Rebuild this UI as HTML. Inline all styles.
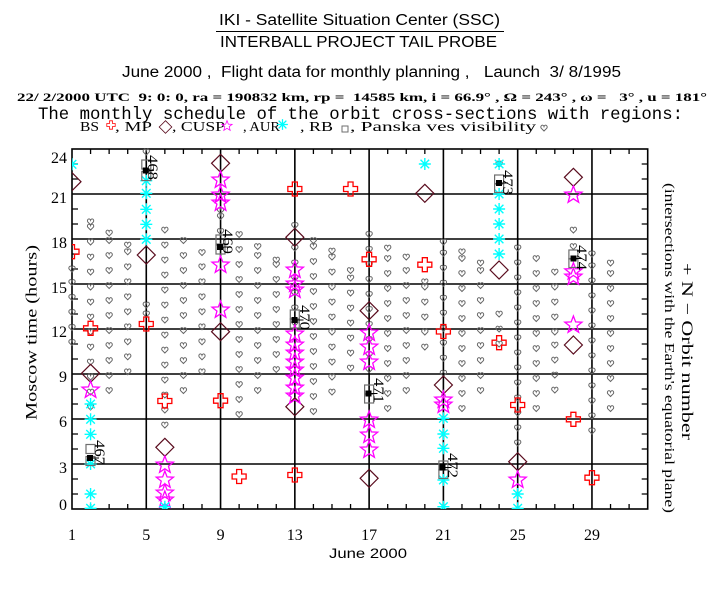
<!DOCTYPE html>
<html><head><meta charset="utf-8"><style>
html,body{margin:0;padding:0;background:#fff;}
svg{display:block;}
text{white-space:pre;}
</style></head><body>
<svg width="720" height="600" viewBox="0 0 720 600" xmlns="http://www.w3.org/2000/svg">
<defs>
<path id="cr" d="M-2.5,-7H2.5V-2.5H7V2.5H2.5V7H-2.5V2.5H-7V-2.5H-2.5Z" fill="none" stroke="#f00" stroke-width="1.3"/>
<path id="dm" d="M0,-9L9,0L0,9L-9,0Z" fill="none" stroke="#5a0c1e" stroke-width="1.2"/>
<path id="st" d="M0,-9L2.23,-3.07L8.56,-2.78L3.61,1.17L5.29,7.28L0,3.8L-5.29,7.28L-3.61,1.17L-8.56,-2.78L-2.23,-3.07Z" fill="none" stroke="#f0f" stroke-width="1.3"/>
<path id="as" d="M-6,0H6M0,-6V6M-4.3,-4.3L4.3,4.3M-4.3,4.3L4.3,-4.3" stroke="#0ff" stroke-width="1.4" fill="none"/>
<path id="h" d="M0,3L-2.8,0.2Q-3.4,-0.6 -3,-1.8Q-2.4,-3 -1.2,-2.8Q-0.3,-2.5 0,-1.5Q0.3,-2.5 1.2,-2.8Q2.4,-3 3,-1.8Q3.4,-0.6 2.8,0.2Z" fill="none" stroke="#666" stroke-width="1"/>
<clipPath id="pc"><rect x="72" y="149" width="576" height="360"/></clipPath>
</defs>
<rect width="720" height="600" fill="#fff"/>

<!-- Titles -->
<text x="219" y="25" font-family="Liberation Sans, sans-serif" font-size="15.5" textLength="281" lengthAdjust="spacingAndGlyphs">IKI - Satellite Situation Center (SSC)</text>
<line x1="216" y1="31.5" x2="504" y2="31.5" stroke="#000" stroke-width="1"/>
<text x="220" y="47" font-family="Liberation Sans, sans-serif" font-size="16" textLength="277" lengthAdjust="spacingAndGlyphs">INTERBALL PROJECT TAIL PROBE</text>
<text x="122" y="77" font-family="Liberation Sans, sans-serif" font-size="15.5" textLength="499" lengthAdjust="spacingAndGlyphs">June 2000 ,  Flight data for monthly planning ,   Launch  3/ 8/1995</text>
<text x="17" y="101" font-family="Liberation Serif, serif" font-weight="bold" font-size="12" textLength="690" lengthAdjust="spacingAndGlyphs">22/ 2/2000 UTC  9: 0: 0, ra = 190832 km, rp =  14585 km, i = 66.9° , Ω = 243° , ω =   3° , u = 181°</text>
<text x="38" y="119" font-family="Liberation Mono, monospace" font-size="17.5" textLength="645" lengthAdjust="spacingAndGlyphs">The monthly schedule of the orbit cross-sections with regions:</text>

<!-- Legend -->
<g font-family="Liberation Serif, serif" font-size="13.5">
<text x="80" y="131" textLength="19" lengthAdjust="spacingAndGlyphs">BS</text>
<text x="115" y="131" textLength="37" lengthAdjust="spacingAndGlyphs">, MP</text>
<text x="172" y="131" textLength="53" lengthAdjust="spacingAndGlyphs">, CUSP</text>
<text x="243" y="131" textLength="37" lengthAdjust="spacingAndGlyphs">, AUR</text>
<text x="300" y="131" textLength="33" lengthAdjust="spacingAndGlyphs">, RB</text>
<text x="350" y="131" textLength="186" lengthAdjust="spacingAndGlyphs">, Panska ves visibility</text>
</g>
<use href="#cr" transform="translate(111,125) scale(0.6)"/>
<use href="#dm" transform="translate(165.5,127) scale(0.7)"/>
<use href="#st" transform="translate(227,126) scale(0.6)"/>
<use href="#as" transform="translate(282.5,124.5) scale(0.9)"/>
<rect x="342" y="126" width="6" height="6" fill="none" stroke="#6e6e6e" stroke-width="1"/>
<use href="#h" x="544" y="128"/>

<!-- Grid -->
<g stroke="#000" stroke-width="1.6" fill="none">
<path d="M72,194H647.7M72,239H647.7M72,284H647.7M72,329H647.7M72,374H647.7M72,419H647.7M72,464H647.7"/>
<path d="M146.28,149V509M220.56,149V509M294.84,149V509M369.12,149V509M443.4,149V509M517.68,149V509M591.96,149V509"/>
<rect x="72" y="149" width="575.7" height="360"/>
</g>
<g stroke="#000" stroke-width="1.3" fill="none">
<path d="M90.57,149v5M109.14,149v5M127.71,149v5M164.85,149v5M183.42,149v5M201.99,149v5M239.13,149v5M257.7,149v5M276.27,149v5M313.41,149v5M331.98,149v5M350.55,149v5M387.69,149v5M406.26,149v5M424.83,149v5M461.97,149v5M480.54,149v5M499.11,149v5M536.25,149v5M554.82,149v5M573.39,149v5M610.53,149v5M629.1,149v5"/>
<path d="M90.57,509v-5M109.14,509v-5M127.71,509v-5M164.85,509v-5M183.42,509v-5M201.99,509v-5M239.13,509v-5M257.7,509v-5M276.27,509v-5M313.41,509v-5M331.98,509v-5M350.55,509v-5M387.69,509v-5M406.26,509v-5M424.83,509v-5M461.97,509v-5M480.54,509v-5M499.11,509v-5M536.25,509v-5M554.82,509v-5M573.39,509v-5M610.53,509v-5M629.1,509v-5"/>
<path d="M72,494h6M72,479h6M72,449h6M72,434h6M72,404h6M72,389h6M72,359h6M72,344h6M72,314h6M72,299h6M72,269h6M72,254h6M72,224h6M72,209h6M72,179h6M72,164h6"/>
<path d="M647.7,494h-6M647.7,479h-6M647.7,449h-6M647.7,434h-6M647.7,404h-6M647.7,389h-6M647.7,359h-6M647.7,344h-6M647.7,314h-6M647.7,299h-6M647.7,269h-6M647.7,254h-6M647.7,224h-6M647.7,209h-6M647.7,179h-6M647.7,164h-6"/>
</g>

<!-- Tick labels -->
<g font-family="Liberation Serif, serif" font-size="16" text-anchor="end">
<text x="67" y="163">24</text>
<text x="67" y="203">21</text>
<text x="67" y="248">18</text>
<text x="67" y="293">15</text>
<text x="67" y="337">12</text>
<text x="67" y="382">9</text>
<text x="67" y="427">6</text>
<text x="67" y="473">3</text>
<text x="67" y="510">0</text>
</g>
<g font-family="Liberation Serif, serif" font-size="16" text-anchor="middle">
<text x="72" y="540">1</text>
<text x="146.3" y="540">5</text>
<text x="220.6" y="540">9</text>
<text x="294.8" y="540">13</text>
<text x="369.1" y="540">17</text>
<text x="443.4" y="540">21</text>
<text x="517.7" y="540">25</text>
<text x="592" y="540">29</text>
</g>
<text x="329" y="558" font-family="Liberation Sans, sans-serif" font-size="14" textLength="78" lengthAdjust="spacingAndGlyphs">June 2000</text>
<text transform="translate(36.5,420) rotate(-90)" font-family="Liberation Serif, serif" font-size="16" textLength="175" lengthAdjust="spacingAndGlyphs">Moscow time (hours)</text>
<text transform="translate(682,263) rotate(90)" font-family="Liberation Serif, serif" font-size="16" textLength="177" lengthAdjust="spacingAndGlyphs">+ N − Orbit number</text>
<text transform="translate(665,183) rotate(90)" font-family="Liberation Serif, serif" font-size="14" textLength="330" lengthAdjust="spacingAndGlyphs">(intersections with the Earth's equatorial plane)</text>

<!-- Hearts (Panska ves visibility) -->
<g>
<g transform="translate(72,0)"><use href="#h" y="269"/><use href="#h" y="282.5"/><use href="#h" y="297.5"/><use href="#h" y="312.5"/><use href="#h" y="327.5"/><use href="#h" y="342.5"/></g>
<g transform="translate(90.57,0)"><use href="#h" y="221.75"/><use href="#h" y="227"/><use href="#h" y="242"/><use href="#h" y="257"/><use href="#h" y="272"/><use href="#h" y="287"/><use href="#h" y="302"/><use href="#h" y="317"/><use href="#h" y="332"/><use href="#h" y="347"/><use href="#h" y="362"/><use href="#h" y="377"/><use href="#h" y="392"/><use href="#h" y="407"/></g>
<g transform="translate(109.14,0)"><use href="#h" y="233"/><use href="#h" y="240.5"/><use href="#h" y="255.5"/><use href="#h" y="270.5"/><use href="#h" y="285.5"/><use href="#h" y="300.5"/><use href="#h" y="315.5"/><use href="#h" y="330.5"/><use href="#h" y="345.5"/><use href="#h" y="360.5"/><use href="#h" y="375.5"/><use href="#h" y="390.5"/></g>
<g transform="translate(127.71,0)"><use href="#h" y="245"/><use href="#h" y="251.75"/><use href="#h" y="266.75"/><use href="#h" y="281.75"/><use href="#h" y="296.75"/><use href="#h" y="311.75"/><use href="#h" y="326.75"/><use href="#h" y="341.75"/><use href="#h" y="356.75"/><use href="#h" y="371.75"/></g>
<g transform="translate(146.28,0)"><use href="#h" y="152"/><use href="#h" y="305"/><use href="#h" y="314"/></g>
<g transform="translate(164.85,0)"><use href="#h" y="230"/><use href="#h" y="245"/><use href="#h" y="260"/><use href="#h" y="275"/><use href="#h" y="290"/><use href="#h" y="305"/><use href="#h" y="320"/><use href="#h" y="335"/><use href="#h" y="350"/><use href="#h" y="365"/><use href="#h" y="380"/><use href="#h" y="395"/><use href="#h" y="410"/><use href="#h" y="425"/></g>
<g transform="translate(183.42,0)"><use href="#h" y="240.5"/><use href="#h" y="255.5"/><use href="#h" y="270.5"/><use href="#h" y="285.5"/><use href="#h" y="300.5"/><use href="#h" y="315.5"/><use href="#h" y="330.5"/><use href="#h" y="345.5"/><use href="#h" y="360.5"/><use href="#h" y="375.5"/><use href="#h" y="390.5"/></g>
<g transform="translate(201.99,0)"><use href="#h" y="252.5"/><use href="#h" y="266.75"/><use href="#h" y="281.75"/><use href="#h" y="296.75"/><use href="#h" y="311.75"/><use href="#h" y="326.75"/><use href="#h" y="341.75"/><use href="#h" y="356.75"/><use href="#h" y="371.75"/></g>
<g transform="translate(220.56,0)"><use href="#h" y="210.5"/><use href="#h" y="216.5"/><use href="#h" y="231.5"/></g>
<g transform="translate(239.13,0)"><use href="#h" y="234.5"/><use href="#h" y="249.5"/><use href="#h" y="264.5"/><use href="#h" y="279.5"/><use href="#h" y="294.5"/><use href="#h" y="309.5"/><use href="#h" y="324.5"/><use href="#h" y="339.5"/><use href="#h" y="354.5"/><use href="#h" y="369.5"/><use href="#h" y="384.5"/><use href="#h" y="399.5"/><use href="#h" y="414.5"/></g>
<g transform="translate(257.7,0)"><use href="#h" y="246.5"/><use href="#h" y="255.5"/><use href="#h" y="270.5"/><use href="#h" y="285.5"/><use href="#h" y="300.5"/><use href="#h" y="315.5"/><use href="#h" y="330.5"/><use href="#h" y="345.5"/><use href="#h" y="360.5"/><use href="#h" y="375.5"/><use href="#h" y="390.5"/></g>
<g transform="translate(276.27,0)"><use href="#h" y="260"/><use href="#h" y="264.5"/><use href="#h" y="279.5"/><use href="#h" y="294.5"/><use href="#h" y="309.5"/><use href="#h" y="324.5"/><use href="#h" y="339.5"/><use href="#h" y="354.5"/><use href="#h" y="369.5"/></g>
<g transform="translate(294.84,0)"><use href="#h" y="225.5"/><use href="#h" y="248"/><use href="#h" y="263"/><use href="#h" y="278"/><use href="#h" y="293"/><use href="#h" y="308"/><use href="#h" y="323"/></g>
<g transform="translate(313.41,0)"><use href="#h" y="240.5"/><use href="#h" y="246.5"/><use href="#h" y="261.5"/><use href="#h" y="276.5"/><use href="#h" y="291.5"/><use href="#h" y="306.5"/><use href="#h" y="321.5"/><use href="#h" y="336.5"/><use href="#h" y="351.5"/><use href="#h" y="366.5"/><use href="#h" y="381.5"/><use href="#h" y="396.5"/><use href="#h" y="411.5"/></g>
<g transform="translate(331.98,0)"><use href="#h" y="251"/><use href="#h" y="257"/><use href="#h" y="272"/><use href="#h" y="287"/><use href="#h" y="302"/><use href="#h" y="317"/><use href="#h" y="332"/><use href="#h" y="347"/><use href="#h" y="362"/><use href="#h" y="377"/><use href="#h" y="392"/></g>
<g transform="translate(350.55,0)"><use href="#h" y="270.5"/><use href="#h" y="278"/><use href="#h" y="293"/><use href="#h" y="308"/><use href="#h" y="323"/><use href="#h" y="338"/><use href="#h" y="353"/><use href="#h" y="368"/></g>
<g transform="translate(369.12,0)"><use href="#h" y="234.5"/><use href="#h" y="249.5"/><use href="#h" y="264.5"/><use href="#h" y="279.5"/><use href="#h" y="294.5"/><use href="#h" y="309.5"/><use href="#h" y="324.5"/><use href="#h" y="339.5"/><use href="#h" y="354.5"/><use href="#h" y="369.5"/></g>
<g transform="translate(387.69,0)"><use href="#h" y="248"/><use href="#h" y="258.5"/><use href="#h" y="273.5"/><use href="#h" y="288.5"/><use href="#h" y="303.5"/><use href="#h" y="318.5"/><use href="#h" y="333.5"/><use href="#h" y="348.5"/><use href="#h" y="363.5"/><use href="#h" y="378.5"/><use href="#h" y="393.5"/><use href="#h" y="408.5"/></g>
<g transform="translate(406.26,0)"><use href="#h" y="257"/><use href="#h" y="270.5"/><use href="#h" y="285.5"/><use href="#h" y="300.5"/><use href="#h" y="315.5"/><use href="#h" y="330.5"/><use href="#h" y="345.5"/><use href="#h" y="360.5"/><use href="#h" y="375.5"/><use href="#h" y="390.5"/></g>
<g transform="translate(424.83,0)"><use href="#h" y="281.75"/><use href="#h" y="287"/><use href="#h" y="302"/><use href="#h" y="317"/><use href="#h" y="332"/><use href="#h" y="347"/></g>
<g transform="translate(443.4,0)"><use href="#h" y="242"/><use href="#h" y="253.25"/><use href="#h" y="268.25"/><use href="#h" y="283.25"/><use href="#h" y="298.25"/><use href="#h" y="313.25"/><use href="#h" y="328.25"/><use href="#h" y="343.25"/><use href="#h" y="358.25"/><use href="#h" y="373.25"/></g>
<g transform="translate(461.97,0)"><use href="#h" y="251.75"/><use href="#h" y="258.5"/><use href="#h" y="273.5"/><use href="#h" y="288.5"/><use href="#h" y="303.5"/><use href="#h" y="318.5"/><use href="#h" y="333.5"/><use href="#h" y="348.5"/><use href="#h" y="363.5"/><use href="#h" y="378.5"/><use href="#h" y="393.5"/><use href="#h" y="408.5"/></g>
<g transform="translate(480.54,0)"><use href="#h" y="263"/><use href="#h" y="270.5"/><use href="#h" y="285.5"/><use href="#h" y="300.5"/><use href="#h" y="315.5"/><use href="#h" y="330.5"/><use href="#h" y="345.5"/><use href="#h" y="360.5"/><use href="#h" y="375.5"/><use href="#h" y="390.5"/></g>
<g transform="translate(499.11,0)"><use href="#h" y="164"/><use href="#h" y="314"/><use href="#h" y="329"/><use href="#h" y="344"/></g>
<g transform="translate(517.68,0)"><use href="#h" y="248"/><use href="#h" y="263"/><use href="#h" y="278"/><use href="#h" y="293"/><use href="#h" y="308"/><use href="#h" y="323"/><use href="#h" y="338"/><use href="#h" y="353"/><use href="#h" y="368"/><use href="#h" y="383"/><use href="#h" y="398"/><use href="#h" y="413"/><use href="#h" y="428"/><use href="#h" y="443"/></g>
<g transform="translate(536.25,0)"><use href="#h" y="258.5"/><use href="#h" y="273.5"/><use href="#h" y="288.5"/><use href="#h" y="303.5"/><use href="#h" y="318.5"/><use href="#h" y="333.5"/><use href="#h" y="348.5"/><use href="#h" y="363.5"/><use href="#h" y="378.5"/><use href="#h" y="393.5"/><use href="#h" y="408.5"/></g>
<g transform="translate(554.82,0)"><use href="#h" y="272"/><use href="#h" y="287"/><use href="#h" y="302"/><use href="#h" y="317"/><use href="#h" y="332"/><use href="#h" y="345"/><use href="#h" y="360"/><use href="#h" y="375"/><use href="#h" y="390"/></g>
<g transform="translate(573.39,0)"><use href="#h" y="230"/><use href="#h" y="246.5"/></g>
<g transform="translate(591.96,0)"><use href="#h" y="254"/><use href="#h" y="266"/><use href="#h" y="281"/><use href="#h" y="296"/><use href="#h" y="311"/><use href="#h" y="326"/><use href="#h" y="341"/><use href="#h" y="356"/><use href="#h" y="371"/><use href="#h" y="386"/><use href="#h" y="401"/><use href="#h" y="416"/><use href="#h" y="431"/></g>
<g transform="translate(610.53,0)"><use href="#h" y="263"/><use href="#h" y="273.5"/><use href="#h" y="288.5"/><use href="#h" y="303.5"/><use href="#h" y="318.5"/><use href="#h" y="333.5"/><use href="#h" y="348.5"/><use href="#h" y="363.5"/><use href="#h" y="378.5"/><use href="#h" y="393.5"/><use href="#h" y="408.5"/></g>
</g>

<!-- Markers -->
<g clip-path="url(#pc)">
<!-- MP diamonds -->
<use href="#dm" x="72" y="181.7"/>
<use href="#dm" x="220.56" y="163.3"/>
<use href="#dm" x="146.28" y="255"/>
<use href="#dm" x="220.56" y="331.7"/>
<use href="#dm" x="90.57" y="373.3"/>
<use href="#dm" x="164.85" y="447.3"/>
<use href="#dm" x="294.84" y="237.3"/>
<use href="#dm" x="294.84" y="406.7"/>
<use href="#dm" x="369.12" y="310.7"/>
<use href="#dm" x="369.12" y="478.3"/>
<use href="#dm" x="424.83" y="193.3"/>
<use href="#dm" x="443.4" y="385"/>
<use href="#dm" x="499.11" y="270"/>
<use href="#dm" x="573.39" y="177.3"/>
<use href="#dm" x="573.39" y="345"/>
<use href="#dm" x="517.68" y="461.7"/>
<!-- BS crosses -->
<use href="#cr" x="72" y="251.7"/>
<use href="#cr" x="90.57" y="328.3"/>
<use href="#cr" x="146.28" y="324"/>
<use href="#cr" x="164.85" y="401"/>
<use href="#cr" x="220.56" y="400.7"/>
<use href="#cr" x="239.13" y="476.5"/>
<use href="#cr" x="294.84" y="189"/>
<use href="#cr" x="294.84" y="475"/>
<use href="#cr" x="350.55" y="189"/>
<use href="#cr" x="369.12" y="259.3"/>
<use href="#cr" x="424.83" y="264.7"/>
<use href="#cr" x="443.4" y="331.5"/>
<use href="#cr" x="499.11" y="342.7"/>
<use href="#cr" x="517.68" y="405"/>
<use href="#cr" x="573.39" y="419.3"/>
<use href="#cr" x="591.96" y="477.7"/>
<!-- CUSP stars -->
<use href="#st" x="90.57" y="390"/>
<use href="#st" x="164.85" y="465"/>
<use href="#st" x="164.85" y="480"/>
<use href="#st" x="164.85" y="493"/>
<use href="#st" x="164.85" y="500"/>
<use href="#st" x="220.56" y="180"/>
<use href="#st" x="220.56" y="195"/>
<use href="#st" x="220.56" y="203"/>
<use href="#st" x="220.56" y="265"/>
<use href="#st" x="220.56" y="310"/>
<use href="#st" x="294.84" y="270"/>
<use href="#st" x="294.84" y="284"/>
<use href="#st" x="294.84" y="290"/>
<use href="#st" x="294.84" y="334"/>
<use href="#st" x="294.84" y="345"/>
<use href="#st" x="294.84" y="353"/>
<use href="#st" x="294.84" y="362"/>
<use href="#st" x="294.84" y="370"/>
<use href="#st" x="294.84" y="378"/>
<use href="#st" x="294.84" y="388"/>
<use href="#st" x="294.84" y="396"/>
<use href="#st" x="369.12" y="333"/>
<use href="#st" x="369.12" y="347"/>
<use href="#st" x="369.12" y="362"/>
<use href="#st" x="369.12" y="420"/>
<use href="#st" x="369.12" y="435"/>
<use href="#st" x="369.12" y="450"/>
<use href="#st" x="443.4" y="400"/>
<use href="#st" x="443.4" y="405"/>
<use href="#st" x="517.68" y="480"/>
<use href="#st" x="573.39" y="195"/>
<use href="#st" x="573.39" y="271.7"/>
<use href="#st" x="573.39" y="277"/>
<use href="#st" x="573.39" y="325"/>
<!-- AUR asterisks -->
<use href="#as" x="72" y="164.3"/>
<use href="#as" x="146.28" y="180.7"/>
<use href="#as" x="146.28" y="193.3"/>
<use href="#as" x="146.28" y="209.3"/>
<use href="#as" x="146.28" y="224.3"/>
<use href="#as" x="146.28" y="239.3"/>
<use href="#as" x="90.57" y="404"/>
<use href="#as" x="90.57" y="419.3"/>
<use href="#as" x="90.57" y="434.3"/>
<use href="#as" x="90.57" y="464"/>
<use href="#as" x="90.57" y="494"/>
<use href="#as" x="90.57" y="508.3"/>
<use href="#as" x="164.85" y="506.7"/>
<use href="#as" x="424.83" y="164"/>
<use href="#as" x="443.4" y="418.3"/>
<use href="#as" x="443.4" y="434"/>
<use href="#as" x="443.4" y="448.3"/>
<use href="#as" x="443.4" y="480"/>
<use href="#as" x="443.4" y="506.7"/>
<use href="#as" x="499.11" y="164"/>
<use href="#as" x="499.11" y="194"/>
<use href="#as" x="499.11" y="209"/>
<use href="#as" x="499.11" y="224"/>
<use href="#as" x="499.11" y="239"/>
<use href="#as" x="499.11" y="254"/>
<use href="#as" x="517.68" y="494"/>
<use href="#as" x="517.68" y="508.3"/>
</g>

<!-- RB squares + orbit markers -->
<g fill="none" stroke="#6e6e6e" stroke-width="1.2">
<rect x="86" y="444.5" width="9" height="9"/><rect x="86" y="456.5" width="9" height="9"/>
<rect x="141.8" y="160" width="9" height="9"/><rect x="141.8" y="171.5" width="9" height="9"/>
<rect x="216" y="235" width="9" height="9"/><rect x="216" y="245" width="9" height="9"/>
<rect x="290.3" y="310" width="9" height="9"/><rect x="290.3" y="319" width="9" height="9"/>
<rect x="364.6" y="385" width="9" height="9"/><rect x="364.6" y="394" width="9" height="9"/>
<rect x="438.9" y="461" width="9" height="9"/><rect x="438.9" y="469.5" width="9" height="9"/>
<rect x="494.6" y="175" width="9" height="9"/><rect x="494.6" y="183.5" width="9" height="9"/>
<rect x="568.9" y="250" width="9" height="9"/><rect x="568.9" y="258.5" width="9" height="9"/>
</g>
<g fill="#000">
<rect x="87" y="455" width="6" height="6"/>
<rect x="142.8" y="167.5" width="6" height="6"/>
<rect x="217" y="244" width="6" height="6"/>
<rect x="291.5" y="317" width="6" height="6"/>
<rect x="365.5" y="390.5" width="6" height="6"/>
<rect x="439.5" y="464.5" width="6" height="6"/>
<rect x="496" y="180" width="6" height="6"/>
<rect x="570.5" y="255.5" width="6" height="6"/>
</g>
<g stroke="#000" stroke-width="1">
<path d="M93,458h6M148.8,170.5h5M223,247h5M297.5,320h6M371.5,393.5h6M445.5,467.5h6M502,183h6M576.5,258.5h5"/>
</g>
<g font-family="Liberation Serif, serif" font-size="15">
<text transform="translate(95,440) rotate(90)" textLength="25" lengthAdjust="spacingAndGlyphs">467</text>
<text transform="translate(148,155) rotate(90)" textLength="25" lengthAdjust="spacingAndGlyphs">468</text>
<text transform="translate(223,229) rotate(90)" textLength="25" lengthAdjust="spacingAndGlyphs">469</text>
<text transform="translate(300,305) rotate(90)" textLength="25" lengthAdjust="spacingAndGlyphs">470</text>
<text transform="translate(374,378) rotate(90)" textLength="25" lengthAdjust="spacingAndGlyphs">471</text>
<text transform="translate(448,453) rotate(90)" textLength="25" lengthAdjust="spacingAndGlyphs">472</text>
<text transform="translate(503,170) rotate(90)" textLength="25" lengthAdjust="spacingAndGlyphs">473</text>
<text transform="translate(577,245) rotate(90)" textLength="25" lengthAdjust="spacingAndGlyphs">474</text>
</g>
</svg>
</body></html>
